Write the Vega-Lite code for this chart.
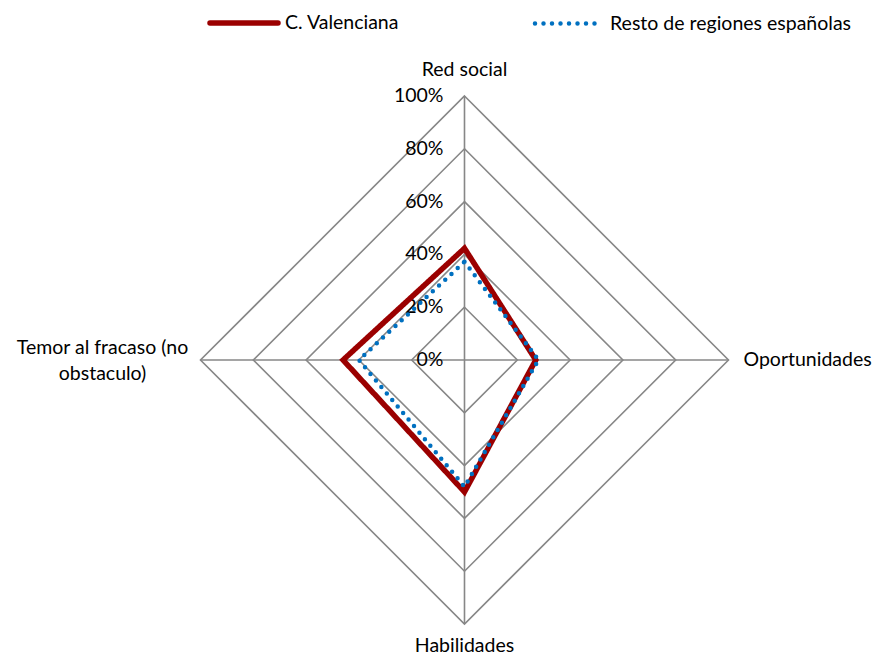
{
  "$schema": "https://vega.github.io/schema/vega-lite/v6.json",
  "width": 872,
  "height": 657,
  "autosize": "none",
  "padding": 0,
  "background": "white",
  "config": {
    "view": {"stroke": null},
    "font": "Lato",
    "text": {"font": "Lato", "fontSize": 19.5, "color": "#000000"}
  },
  "datasets": {
    "series": [
      {"serie": "C. Valenciana", "eje": "Red social", "valor": 0.423},
      {"serie": "C. Valenciana", "eje": "Oportunidades", "valor": 0.27},
      {"serie": "C. Valenciana", "eje": "Habilidades", "valor": 0.5},
      {"serie": "C. Valenciana", "eje": "Temor al fracaso (no obstaculo)", "valor": 0.46},
      {"serie": "Resto de regiones españolas", "eje": "Red social", "valor": 0.372},
      {"serie": "Resto de regiones españolas", "eje": "Oportunidades", "valor": 0.28},
      {"serie": "Resto de regiones españolas", "eje": "Habilidades", "valor": 0.48},
      {"serie": "Resto de regiones españolas", "eje": "Temor al fracaso (no obstaculo)", "valor": 0.4}
    ],
    "rejilla": [
      {"nivel": 0.2, "eje": "Red social"}, {"nivel": 0.2, "eje": "Oportunidades"}, {"nivel": 0.2, "eje": "Habilidades"}, {"nivel": 0.2, "eje": "Temor al fracaso (no obstaculo)"},
      {"nivel": 0.4, "eje": "Red social"}, {"nivel": 0.4, "eje": "Oportunidades"}, {"nivel": 0.4, "eje": "Habilidades"}, {"nivel": 0.4, "eje": "Temor al fracaso (no obstaculo)"},
      {"nivel": 0.6, "eje": "Red social"}, {"nivel": 0.6, "eje": "Oportunidades"}, {"nivel": 0.6, "eje": "Habilidades"}, {"nivel": 0.6, "eje": "Temor al fracaso (no obstaculo)"},
      {"nivel": 0.8, "eje": "Red social"}, {"nivel": 0.8, "eje": "Oportunidades"}, {"nivel": 0.8, "eje": "Habilidades"}, {"nivel": 0.8, "eje": "Temor al fracaso (no obstaculo)"},
      {"nivel": 1.0, "eje": "Red social"}, {"nivel": 1.0, "eje": "Oportunidades"}, {"nivel": 1.0, "eje": "Habilidades"}, {"nivel": 1.0, "eje": "Temor al fracaso (no obstaculo)"}
    ],
    "escala": [
      {"nivel": 0}, {"nivel": 0.2}, {"nivel": 0.4}, {"nivel": 0.6}, {"nivel": 0.8}, {"nivel": 1.0}
    ]
  },
  "encoding": {
    "x": {"field": "px", "type": "quantitative", "axis": null,
          "scale": {"domain": [-1.7595, 1.5436], "nice": false, "zero": false}},
    "y": {"field": "py", "type": "quantitative", "axis": null,
          "scale": {"domain": [-1.125, 1.3636], "nice": false, "zero": false}}
  },
  "layer": [
    {
      "data": {"name": "rejilla"},
      "transform": [
        {"calculate": "indexof(['Red social','Oportunidades','Habilidades','Temor al fracaso (no obstaculo)'], datum.eje)", "as": "idx"},
        {"calculate": "datum.nivel * sin(datum.idx * PI / 2)", "as": "px"},
        {"calculate": "datum.nivel * cos(datum.idx * PI / 2)", "as": "py"}
      ],
      "mark": {"type": "line", "interpolate": "linear-closed", "color": "#878787", "strokeWidth": 1.6},
      "encoding": {
        "detail": {"field": "nivel", "type": "nominal"},
        "order": {"field": "idx", "type": "quantitative"}
      }
    },
    {
      "data": {"name": "rejilla"},
      "transform": [
        {"filter": "datum.nivel == 1"},
        {"calculate": "indexof(['Red social','Oportunidades','Habilidades','Temor al fracaso (no obstaculo)'], datum.eje)", "as": "idx"},
        {"calculate": "datum.nivel * sin(datum.idx * PI / 2)", "as": "px"},
        {"calculate": "datum.nivel * cos(datum.idx * PI / 2)", "as": "py"}
      ],
      "mark": {"type": "rule", "color": "#878787", "strokeWidth": 1.6},
      "encoding": {
        "x2": {"datum": 0},
        "y2": {"datum": 0}
      }
    },
    {
      "data": {"name": "escala"},
      "transform": [
        {"calculate": "0", "as": "px"},
        {"calculate": "datum.nivel", "as": "py"}
      ],
      "mark": {"type": "text", "align": "right", "baseline": "middle", "dx": -21},
      "encoding": {
        "text": {"field": "nivel", "type": "quantitative", "format": ".0%"}
      }
    },
    {
      "data": {"name": "series"},
      "transform": [
        {"calculate": "indexof(['Red social','Oportunidades','Habilidades','Temor al fracaso (no obstaculo)'], datum.eje)", "as": "idx"},
        {"calculate": "datum.valor * sin(datum.idx * PI / 2)", "as": "px"},
        {"calculate": "datum.valor * cos(datum.idx * PI / 2)", "as": "py"}
      ],
      "mark": {"type": "line", "interpolate": "linear-closed", "strokeCap": "round", "strokeJoin": "miter"},
      "encoding": {
        "color": {
          "field": "serie", "type": "nominal",
          "scale": {"domain": ["C. Valenciana", "Resto de regiones españolas"], "range": ["#9B0000", "#0070C0"]},
          "legend": {
            "title": null,
            "orient": "none",
            "legendX": 207,
            "legendY": -14,
            "direction": "horizontal",
            "columns": 2,
            "columnPadding": 126,
            "symbolType": "stroke",
            "symbolSize": 4624,
            "labelFont": "Lato",
            "labelFontSize": 19.5,
            "labelColor": "#000000",
            "labelOffset": 4,
            "labelLimit": 400,
            "encode": {"symbols": {"update": {"strokeCap": {"value": "round"}}}}
          }
        },
        "strokeDash": {
          "field": "serie", "type": "nominal",
          "scale": {"domain": ["C. Valenciana", "Resto de regiones españolas"], "range": [[1, 0], [0, 8.5]]},
          "legend": null
        },
        "strokeWidth": {
          "field": "serie", "type": "nominal",
          "scale": {"domain": ["C. Valenciana", "Resto de regiones españolas"], "range": [5.5, 4.5]},
          "legend": null
        },
        "detail": {"field": "serie", "type": "nominal"},
        "order": {"field": "idx", "type": "quantitative"}
      }
    },
    {
      "data": {"name": "rejilla"},
      "transform": [
        {"filter": "datum.nivel == 1 && datum.eje == 'Red social'"},
        {"calculate": "0", "as": "px"},
        {"calculate": "1", "as": "py"}
      ],
      "mark": {"type": "text", "align": "center", "baseline": "middle", "dy": -26},
      "encoding": {"text": {"field": "eje"}}
    },
    {
      "data": {"name": "rejilla"},
      "transform": [
        {"filter": "datum.nivel == 1 && datum.eje == 'Oportunidades'"},
        {"calculate": "1", "as": "px"},
        {"calculate": "0", "as": "py"}
      ],
      "mark": {"type": "text", "align": "left", "baseline": "middle", "dx": 15},
      "encoding": {"text": {"field": "eje"}}
    },
    {
      "data": {"name": "rejilla"},
      "transform": [
        {"filter": "datum.nivel == 1 && datum.eje == 'Habilidades'"},
        {"calculate": "0", "as": "px"},
        {"calculate": "-1", "as": "py"}
      ],
      "mark": {"type": "text", "align": "center", "baseline": "middle", "dy": 22},
      "encoding": {"text": {"field": "eje"}}
    },
    {
      "data": {"name": "rejilla"},
      "transform": [
        {"filter": "datum.nivel == 1 && datum.eje == 'Temor al fracaso (no obstaculo)'"},
        {"calculate": "-1", "as": "px"},
        {"calculate": "0", "as": "py"},
        {"calculate": "['Temor al fracaso (no', 'obstaculo)']", "as": "lineas"}
      ],
      "mark": {"type": "text", "align": "center", "baseline": "middle", "dx": -98, "dy": -12, "lineHeight": 26},
      "encoding": {"text": {"field": "lineas"}}
    }
  ]
}
